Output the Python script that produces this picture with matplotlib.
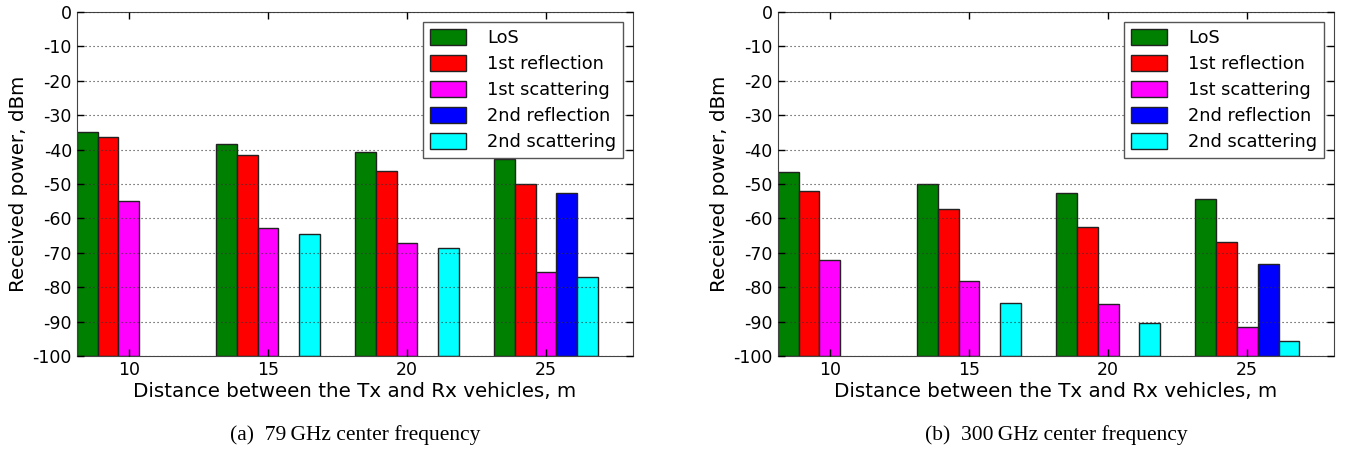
import numpy as np
import matplotlib
matplotlib.use("Agg")
import matplotlib.pyplot as plt

plt.rcParams['font.family'] = ['DejaVu Sans']
plt.rcParams['axes.unicode_minus'] = False

distances = [10, 15, 20, 25]
series_names = ['LoS', '1st reflection', '1st scattering', '2nd reflection', '2nd scattering']
colors = ['#008000', '#ff0000', '#ff00ff', '#0000ff', '#00ffff']

# 79 GHz
los_79 = [-35.0, -38.3, -40.8, -42.8]
refl1_79 = [-36.2, -41.6, -46.3, -50.0]
scat1_79 = [-55.0, -62.9, -67.1, -75.5]
refl2_79 = [np.nan, np.nan, np.nan, -52.5]
scat2_79 = [np.nan, -64.6, -68.7, -76.9]

# 300 GHz
los_300 = [-46.5, -49.9, -52.5, -54.4]
refl1_300 = [-51.9, -57.2, -62.6, -67.0]
scat1_300 = [-72.0, -78.2, -84.9, -91.5]
refl2_300 = [np.nan, np.nan, np.nan, -73.2]
scat2_300 = [np.nan, -84.5, -90.4, -95.5]

panels = [
    ([los_79, refl1_79, scat1_79, refl2_79, scat2_79], '(a)  79\u2009GHz center frequency'),
    ([los_300, refl1_300, scat1_300, refl2_300, scat2_300], '(b)  300\u2009GHz center frequency'),
]

bottom = -100
width = 0.75

fig = plt.figure(figsize=(13.49, 4.53), dpi=100)
positions = [[0.0569, 0.2141, 0.4123, 0.7594], [0.5765, 0.2141, 0.4125, 0.7594]]

for pos, (data, caption) in zip(positions, panels):
    ax = fig.add_axes(pos)
    x = np.array(distances, dtype=float)
    for i, (vals, name, col) in enumerate(zip(data, series_names, colors)):
        v = np.array(vals)
        ax.bar(x - 2.5 * width + i * width, v - bottom, width=width, bottom=bottom,
               align='edge', color=col, edgecolor='#222222', linewidth=1.0, label=name)
    ax.set_xlim(8.125, 28.125)
    ax.set_ylim(-100, 0)
    ax.set_xticks(distances)
    ax.set_yticks(np.arange(-100, 1, 10))
    ax.yaxis.grid(True, linestyle=(0, (1, 2.6)), color='#333333', linewidth=0.8)
    ax.set_axisbelow(False)
    ax.tick_params(direction='in', top=True, right=True, labelsize=12.5, length=5, width=1)
    for s in ax.spines.values():
        s.set_color('#444444')
    ax.set_xlabel('Distance between the Tx and Rx vehicles, m', fontsize=14.3, labelpad=2)
    ax.set_ylabel('Received power, dBm', fontsize=14.3, labelpad=3)
    leg = ax.legend(loc='upper right', fontsize=12.8, fancybox=False, framealpha=1,
                    borderaxespad=0.55, handlelength=2.0, handleheight=1.0,
                    handletextpad=1.2, labelspacing=0.45, borderpad=0.4)
    leg.get_frame().set_edgecolor('#555555')
    cx = pos[0] + pos[2] / 2
    fig.text(cx, 0.04, caption, ha='center', va='center', fontsize=15.5,
             family=['Liberation Serif', 'DejaVu Serif'])

fig.savefig('out.png', dpi=100, facecolor='white')
